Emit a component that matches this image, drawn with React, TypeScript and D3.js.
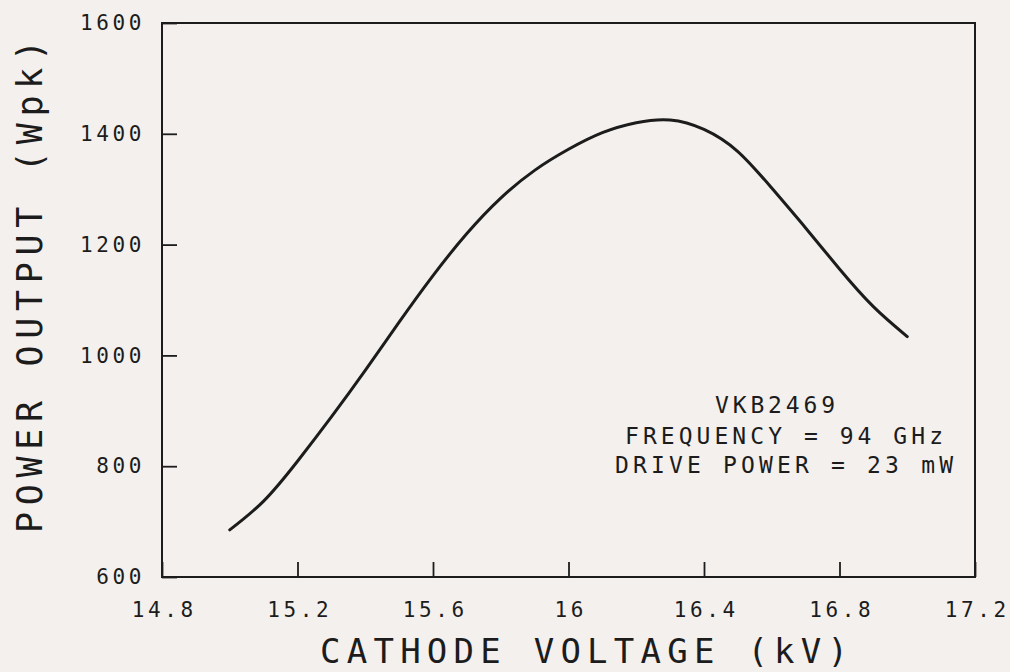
import React, { useEffect, useRef } from "react";
import * as d3 from "d3";

// cathode voltage (kV) vs power output (Wpk)
const voltages = [15.0, 15.1, 15.2, 15.3, 15.4, 15.5, 15.6, 15.7, 15.8, 15.9, 16.0, 16.1, 16.2, 16.3, 16.4, 16.5, 16.6, 16.7, 16.8, 16.9, 17.0];
const power = [685, 737, 809, 889, 973, 1060, 1144, 1220, 1284, 1334, 1372, 1402, 1420, 1425, 1408, 1368, 1302, 1230, 1156, 1088, 1034];
const xTicks = [14.8, 15.2, 15.6, 16, 16.4, 16.8, 17.2];
const yTicks = [600, 800, 1000, 1200, 1400, 1600];
const notes = ["VKB2469", "FREQUENCY = 94 GHz", "DRIVE POWER = 23 mW"];

const W = 1010;
const H = 672;
const margin = { left: 162, right: 35, top: 23, bottom: 95 };
const MONO = "'DejaVu Sans Mono', monospace";
const INK = "#1c1c1c";

const App = () => {
  const svgRef = useRef(null);

  useEffect(() => {
    const svg = d3.select(svgRef.current);
    svg.selectAll("*").remove();

    const x = d3.scaleLinear().domain([14.8, 17.2]).range([margin.left, W - margin.right]);
    const y = d3.scaleLinear().domain([600, 1600]).range([H - margin.bottom, margin.top]);

    svg.append("rect").attr("width", W).attr("height", H).attr("fill", "#f4f0ed");

    // frame
    svg
      .append("rect")
      .attr("x", x(14.8))
      .attr("y", y(1600))
      .attr("width", x(17.2) - x(14.8))
      .attr("height", y(600) - y(1600))
      .attr("fill", "none")
      .attr("stroke", INK)
      .attr("stroke-width", 2);

    // bottom axis, ticks pointing in
    const gx = svg
      .append("g")
      .attr("transform", `translate(0,${y(600)})`)
      .call(d3.axisBottom(x).tickValues(xTicks).tickSize(-15).tickPadding(25).tickFormat(d3.format("")));
    gx.select(".domain").remove();
    gx.selectAll("line").attr("stroke", INK).attr("stroke-width", 1.8);
    gx.selectAll("text")
      .attr("font-family", MONO)
      .attr("font-size", 21)
      .attr("letter-spacing", 3.6)
      .attr("dx", 1.8)
      .attr("fill", INK);

    // left axis
    const gy = svg
      .append("g")
      .attr("transform", `translate(${x(14.8)},0)`)
      .call(d3.axisLeft(y).tickValues(yTicks).tickSize(-15).tickPadding(17).tickFormat(d3.format("")));
    gy.select(".domain").remove();
    gy.selectAll("line").attr("stroke", INK).attr("stroke-width", 1.8);
    gy.selectAll("text")
      .attr("font-family", MONO)
      .attr("font-size", 21)
      .attr("letter-spacing", 3.6)
      .attr("fill", INK);

    // curve
    const line = d3
      .line()
      .x((d) => x(d[0]))
      .y((d) => y(d[1]))
      .curve(d3.curveNatural);
    svg
      .append("path")
      .datum(voltages.map((v, i) => [v, power[i]]))
      .attr("d", line)
      .attr("fill", "none")
      .attr("stroke", INK)
      .attr("stroke-width", 3)
      .attr("stroke-linecap", "round");

    // axis titles
    svg
      .append("text")
      .attr("x", 320)
      .attr("y", 663)
      .attr("font-family", MONO)
      .attr("font-size", 34)
      .attr("textLength", 528)
      .attr("lengthAdjust", "spacing")
      .attr("fill", INK)
      .text("CATHODE VOLTAGE (kV)");

    svg
      .append("text")
      .attr("transform", "translate(42,533) rotate(-90)")
      .attr("font-family", MONO)
      .attr("font-size", 35)
      .attr("textLength", 493)
      .attr("lengthAdjust", "spacing")
      .attr("fill", INK)
      .text("POWER OUTPUT (Wpk)");

    // annotation block
    const noteX = [715, 625, 615];
    const noteLen = [120, 318, 338];
    const noteY = [413, 444, 473];
    notes.forEach((t, i) => {
      svg
        .append("text")
        .attr("x", noteX[i])
        .attr("y", noteY[i])
        .attr("font-family", MONO)
        .attr("font-size", 23)
        .attr("textLength", noteLen[i])
        .attr("lengthAdjust", "spacing")
        .attr("fill", INK)
        .text(t);
    });
  }, []);

  return (
    <svg
      ref={svgRef}
      width={W}
      height={H}
      style={{ position: "absolute", left: 0, top: 0, display: "block" }}
    ></svg>
  );
};

export default App;
